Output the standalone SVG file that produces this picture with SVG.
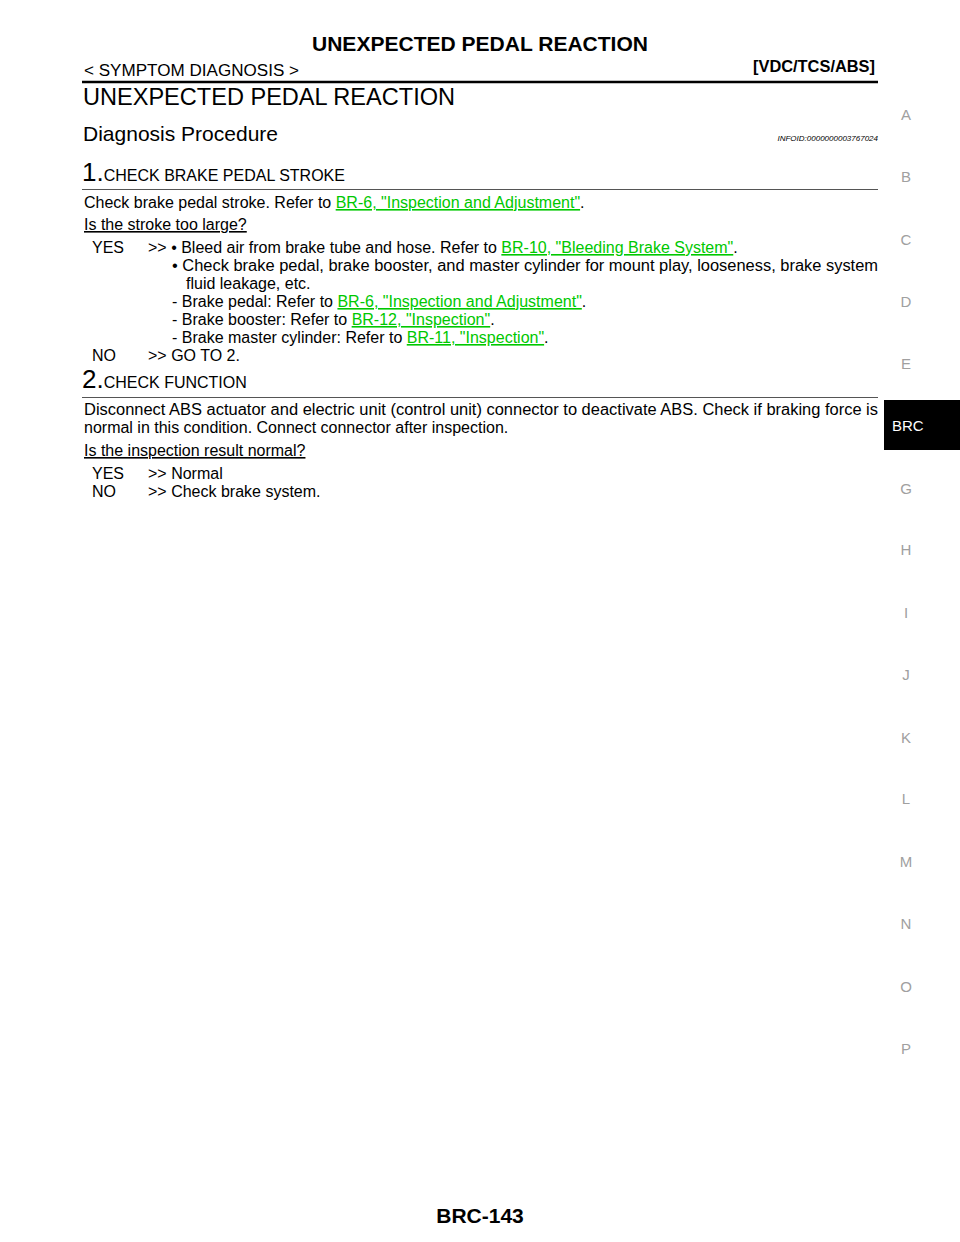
<svg xmlns="http://www.w3.org/2000/svg" width="960" height="1242" viewBox="0 0 960 1242">
<style>
text{font-family:"Liberation Sans",Arial,sans-serif;fill:#000}
.b{font-size:16px}
.l{fill:#00c800;text-decoration:underline}
.u{text-decoration:underline}
.s{font-size:15px;fill:#a0a0a0}
</style>
<rect width="960" height="1242" fill="#fff"/>
<g id="header">
<text x="480" y="51" font-size="21" font-weight="bold" text-anchor="middle" textLength="336" lengthAdjust="spacingAndGlyphs">UNEXPECTED PEDAL REACTION</text>
<text x="84" y="76" font-size="16" textLength="215" lengthAdjust="spacingAndGlyphs">&lt; SYMPTOM DIAGNOSIS &gt;</text>
<text x="875" y="72" font-size="16" font-weight="bold" text-anchor="end" textLength="122" lengthAdjust="spacingAndGlyphs">[VDC/TCS/ABS]</text>
<line x1="82" y1="82" x2="878" y2="82" stroke="#000" stroke-width="2.5"/>
<text x="83" y="105" font-size="24" textLength="372" lengthAdjust="spacingAndGlyphs">UNEXPECTED PEDAL REACTION</text>
<text x="83" y="141" font-size="21" textLength="195" lengthAdjust="spacingAndGlyphs">Diagnosis Procedure</text>
<text x="878" y="141" font-size="8" font-style="italic" text-anchor="end">INFOID:0000000003767024</text>
</g>
<g id="step1">
<text x="82" y="181"><tspan font-size="26">1.</tspan><tspan font-size="16">CHECK BRAKE PEDAL STROKE</tspan></text>
<line x1="82" y1="189.5" x2="878" y2="189.5" stroke="#555" stroke-width="1.2"/>
<text class="b" x="84" y="208">Check brake pedal stroke. Refer to <tspan class="l">BR-6, "Inspection and Adjustment"</tspan>.</text>
<text class="b u" x="84" y="230">Is the stroke too large?</text>
<text class="b" x="92" y="253">YES</text>
<text class="b" x="148" y="253">&gt;&gt; • Bleed air from brake tube and hose. Refer to <tspan class="l">BR-10, "Bleeding Brake System"</tspan>.</text>
<text class="b" x="172" y="271" textLength="706" lengthAdjust="spacingAndGlyphs">• Check brake pedal, brake booster, and master cylinder for mount play, looseness, brake system</text>
<text class="b" x="186" y="289">fluid leakage, etc.</text>
<text class="b" x="172" y="307">-  Brake pedal: Refer to <tspan class="l">BR-6, "Inspection and Adjustment"</tspan>.</text>
<text class="b" x="172" y="325">-  Brake booster: Refer to <tspan class="l">BR-12, "Inspection"</tspan>.</text>
<text class="b" x="172" y="343">-  Brake master cylinder: Refer to <tspan class="l">BR-11, "Inspection"</tspan>.</text>
<text class="b" x="92" y="361">NO</text>
<text class="b" x="148" y="361">&gt;&gt; GO TO 2.</text>
</g>
<g id="step2">
<text x="82" y="388"><tspan font-size="26">2.</tspan><tspan font-size="16">CHECK FUNCTION</tspan></text>
<line x1="82" y1="397.5" x2="878" y2="397.5" stroke="#555" stroke-width="1.2"/>
<text class="b" x="84" y="415" textLength="794" lengthAdjust="spacingAndGlyphs">Disconnect ABS actuator and electric unit (control unit) connector to deactivate ABS. Check if braking force is</text>
<text class="b" x="84" y="433">normal in this condition. Connect connector after inspection.</text>
<text class="b u" x="84" y="456">Is the inspection result normal?</text>
<text class="b" x="92" y="479">YES</text>
<text class="b" x="148" y="479">&gt;&gt; Normal</text>
<text class="b" x="92" y="497">NO</text>
<text class="b" x="148" y="497">&gt;&gt; Check brake system.</text>
</g>
<g id="sidebar">
<text class="s" x="906" y="120" text-anchor="middle">A</text>
<text class="s" x="906" y="182" text-anchor="middle">B</text>
<text class="s" x="906" y="245" text-anchor="middle">C</text>
<text class="s" x="906" y="307" text-anchor="middle">D</text>
<text class="s" x="906" y="369" text-anchor="middle">E</text>
<rect x="884" y="400" width="76" height="50" fill="#000"/>
<text x="892" y="431" font-size="15" fill="#fff" style="fill:#fff">BRC</text>
<text class="s" x="906" y="494" text-anchor="middle">G</text>
<text class="s" x="906" y="555" text-anchor="middle">H</text>
<text class="s" x="906" y="618" text-anchor="middle">I</text>
<text class="s" x="906" y="680" text-anchor="middle">J</text>
<text class="s" x="906" y="743" text-anchor="middle">K</text>
<text class="s" x="906" y="804" text-anchor="middle">L</text>
<text class="s" x="906" y="867" text-anchor="middle">M</text>
<text class="s" x="906" y="929" text-anchor="middle">N</text>
<text class="s" x="906" y="992" text-anchor="middle">O</text>
<text class="s" x="906" y="1054" text-anchor="middle">P</text>
</g>
<g id="footer">
<text x="480" y="1223" font-size="21" font-weight="bold" text-anchor="middle">BRC-143</text>
</g>
</svg>
